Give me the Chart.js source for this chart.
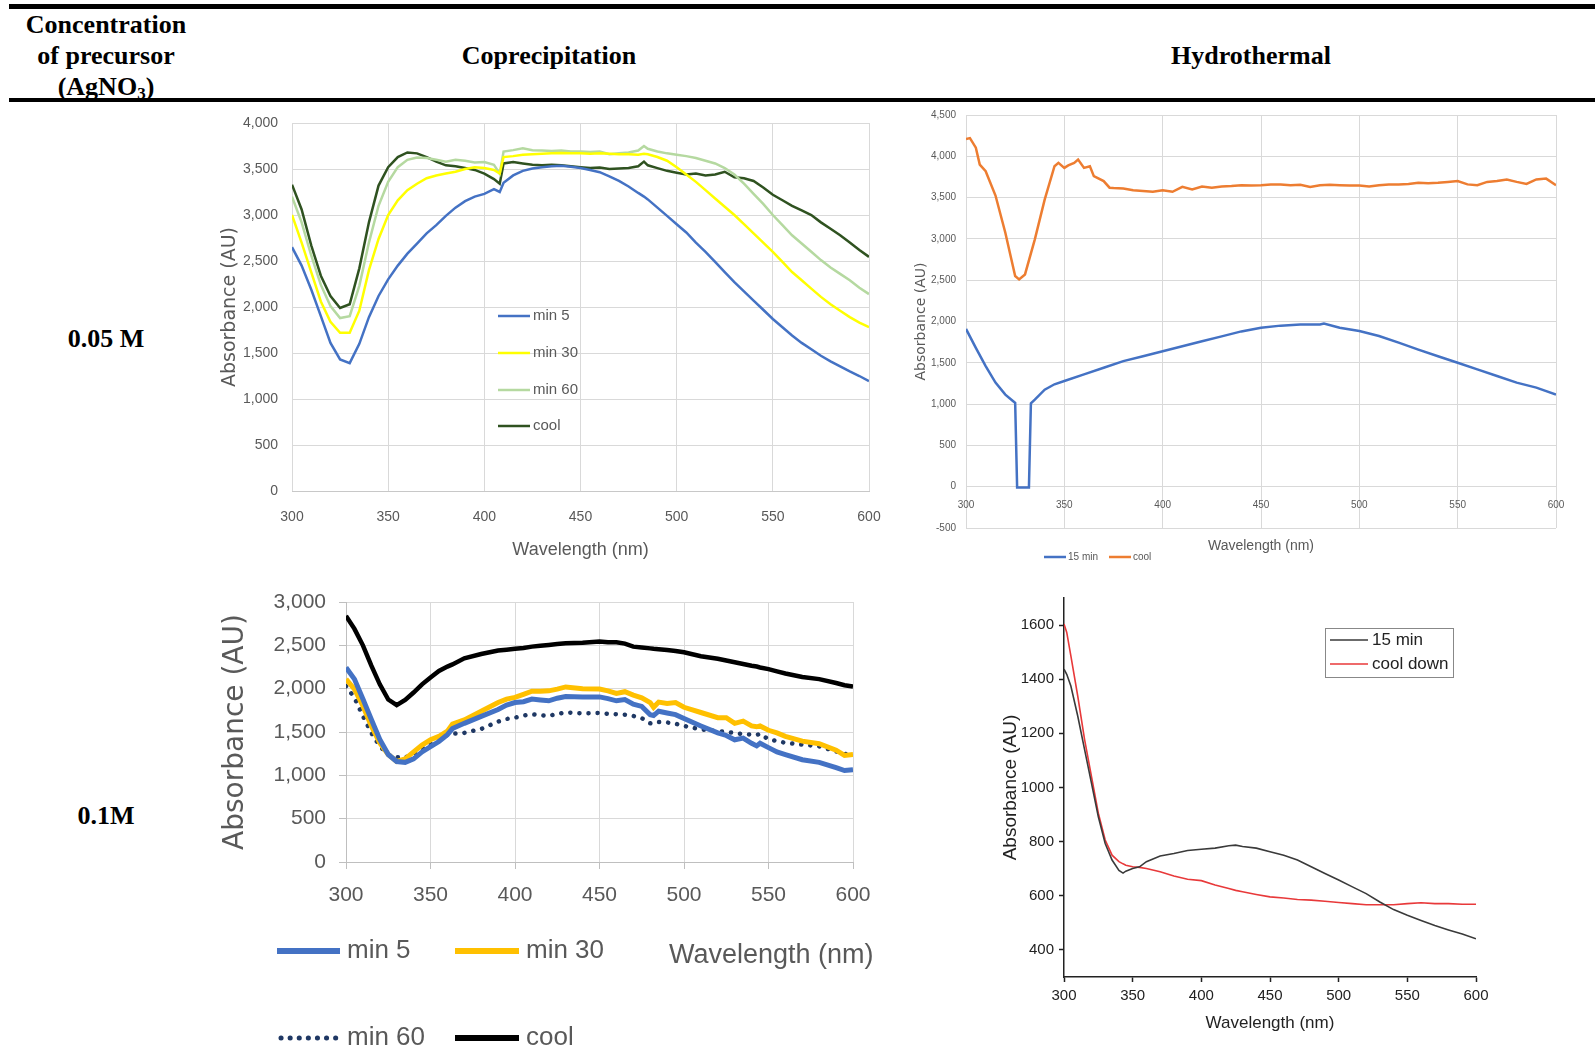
<!DOCTYPE html>
<html lang="en">
<head>
<meta charset="utf-8">
<title>Absorbance AgNO3</title>
<script src="https://cdn.jsdelivr.net/npm/chart.js@4.4.1/dist/chart.umd.min.js"></script>
<style>
  html, body { margin: 0; padding: 0; background: #fff; }
  #pagina { position: relative; width: 1595px; height: 1057px; overflow: hidden; font-family: "Liberation Serif", "Times New Roman", serif; }
  .regla { position: absolute; background: #000; }
  .celda { position: absolute; font-weight: bold; font-size: 26px; text-align: center; color: #000; }
  .grafico { position: absolute; }
</style>
</head>
<body>
<div id="pagina">
  <div class="regla" style="left:9px; top:4px; width:1586px; height:5px;"></div>
  <div class="regla" style="left:9px; top:98px; width:1586px; height:4px;"></div>

  <div class="celda" style="left:0; top:9px; width:212px; line-height:31px;">Concentration<br>of precursor<br>(AgNO<span style="font-size:17px; position:relative; top:4px;">3</span>)</div>
  <div class="celda" style="left:349px; top:40px; width:400px; line-height:32px;">Coprecipitation</div>
  <div class="celda" style="left:1051px; top:40px; width:400px; line-height:32px;">Hydrothermal</div>
  <div class="celda" style="left:0; top:323px; width:212px; line-height:32px;">0.05 M</div>
  <div class="celda" style="left:0; top:800px; width:212px; line-height:32px;">0.1M</div>

  <canvas id="graficoCopre005" class="grafico" style="left:200px; top:110px;" width="690" height="455"></canvas>
  <canvas id="graficoHidro005" class="grafico" style="left:895px; top:105px;" width="695" height="465"></canvas>
  <canvas id="graficoCopre01" class="grafico" style="left:205px; top:585px;" width="690" height="472"></canvas>
  <canvas id="graficoHidro01" class="grafico" style="left:985px; top:585px;" width="600" height="470"></canvas>
</div>

<script>
// ---- Coprecipitacion 0.05 M ----
const longitudOnda1 = [300,305,310,315,320,325,330,335,340,345,350,355,360,365,370,375,380,385,390,395,400,405,408,
  410,415,420,425,430,435,440,445,450,455,460,465,470,475,480,483,
  485,490,495,500,505,510,515,520,525,530,535,540,545,550,555,560,565,570,575,580,585,590,595,600];
const copre005Min5 = [2650,2450,2190,1900,1610,1430,1390,1600,1890,2120,2300,2450,2580,2690,2800,2890,2990,3080,3150,3200,3230,3280,3250,
  3350,3430,3480,3505,3520,3530,3535,3525,3510,3490,3465,3420,3370,3310,3240,3200,
  3170,3080,2990,2900,2810,2700,2600,2490,2380,2270,2170,2070,1970,1870,1780,1690,1610,1540,1470,1410,1355,1300,1250,1195];
const copre005Min30 = [3000,2700,2380,2060,1840,1720,1720,1960,2400,2740,3000,3160,3270,3340,3400,3430,3450,3470,3500,3520,3510,3490,3450,
  3630,3640,3655,3660,3665,3670,3675,3670,3670,3665,3670,3665,3660,3660,3655,3665,
  3660,3630,3590,3520,3440,3360,3270,3180,3090,3000,2900,2800,2700,2600,2490,2380,2290,2200,2110,2030,1960,1890,1830,1780];
const copre005Min60 = [3200,2920,2560,2240,2010,1880,1900,2230,2700,3100,3360,3520,3600,3625,3620,3600,3580,3600,3590,3570,3575,3545,3450,
  3690,3705,3725,3705,3700,3695,3700,3690,3690,3685,3690,3660,3670,3680,3700,3750,
  3720,3690,3670,3655,3640,3620,3590,3560,3510,3440,3340,3230,3120,3000,2890,2780,2690,2600,2510,2430,2360,2290,2210,2140];
const copre005Cool = [3330,3060,2670,2340,2120,1990,2030,2420,2920,3320,3520,3630,3680,3670,3630,3580,3540,3530,3510,3490,3450,3390,3340,
  3560,3575,3560,3545,3540,3545,3540,3530,3520,3510,3515,3500,3505,3510,3530,3580,
  3540,3510,3480,3460,3440,3450,3430,3440,3470,3410,3400,3370,3300,3220,3160,3100,3050,3000,2920,2850,2780,2700,2620,2545];

// ---- Hidrotermal 0.05 M ----
const longitudOnda15min = [300,305,310,315,320,324,325,326,332,333,335,340,345,350,360,370,380,390,400,410,
  420,430,440,450,460,470,480,482,490,500,510,520,530,540,550,560,570,580,590,600];
const hidro005Min15 = [1910,1680,1460,1260,1115,1035,1015,-10,-10,1010,1055,1175,1240,1280,1360,1440,1520,1580,1640,1700,
  1760,1820,1880,1925,1950,1965,1965,1975,1925,1885,1825,1745,1660,1580,1500,1420,1340,1260,1200,1115];
const longitudOndaCool = [300,302,305,307,310,315,320,323,325,327,330,335,340,345,347,350,352,355,357,360,363,365,370,373,375,
  380,385,390,395,400,405,410,415,420,425,430,435,440,445,450,455,460,465,470,475,480,485,490,495,500,
  505,510,515,520,525,530,535,540,545,550,555,560,565,570,575,580,585,590,595,600];
const hidro005Cool = [4210,4220,4105,3900,3820,3525,3075,2760,2550,2510,2570,2995,3475,3880,3920,3860,3890,3920,3960,3860,3880,3760,3700,3620,3615,
  3610,3590,3580,3570,3590,3570,3630,3600,3635,3620,3635,3640,3650,3645,3650,3660,3660,3650,3655,3630,3650,3655,3650,3645,3645,
  3635,3650,3660,3660,3665,3680,3675,3680,3690,3700,3660,3650,3690,3700,3720,3690,3665,3720,3730,3650];

// ---- Coprecipitacion 0.1 M ----
const longitudOnda3 = [300,305,310,315,320,325,330,335,340,345,350,355,360,363,370,380,390,395,400,405,410,415,420,425,430,
  440,450,455,460,465,470,475,480,482,485,490,495,500,510,520,525,530,535,540,543,545,550,555,560,570,580,590,595,600];
const copre01Min5 = [2245,2110,1880,1645,1415,1240,1160,1150,1190,1270,1330,1390,1470,1540,1600,1680,1760,1810,1840,1850,1880,1870,1860,1890,1910,
  1905,1905,1885,1860,1875,1820,1795,1700,1690,1740,1720,1700,1655,1570,1490,1460,1410,1430,1370,1340,1370,1320,1270,1240,1180,1150,1090,1055,1065];
const copre01Min30 = [2110,1995,1800,1570,1375,1240,1160,1190,1270,1350,1410,1450,1510,1590,1640,1740,1840,1880,1900,1935,1970,1970,1975,1995,2020,
  2000,1995,1975,1945,1965,1925,1895,1840,1785,1845,1830,1840,1785,1725,1665,1665,1600,1625,1570,1560,1570,1520,1490,1450,1395,1365,1290,1230,1240];
const copre01Min60 = [2030,1895,1685,1490,1335,1240,1210,1205,1250,1310,1355,1395,1470,1480,1490,1535,1620,1650,1665,1690,1705,1695,1685,1710,1725,
  1715,1720,1710,1705,1700,1685,1660,1600,1595,1615,1610,1595,1570,1530,1510,1500,1490,1475,1470,1465,1480,1415,1395,1375,1355,1335,1275,1250,1225];
const copre01Cool = [2840,2690,2500,2265,2050,1875,1810,1870,1955,2050,2130,2205,2255,2280,2350,2400,2440,2450,2460,2470,2485,2495,2505,2515,2525,
  2530,2545,2535,2535,2520,2485,2475,2465,2460,2455,2445,2435,2420,2375,2345,2325,2305,2285,2265,2255,2245,2225,2200,2175,2135,2110,2065,2040,2025];

// ---- Hidrotermal 0.1 M ----
const longitudOnda4 = [300,302,305,310,315,320,325,330,335,340,343,345,350,355,360,370,380,390,400,410,
  420,425,430,440,450,460,470,480,490,500,510,520,530,540,550,560,570,580,590,600];
const hidro01Min15 = [1437,1418,1375,1264,1140,1016,892,793,732,694,684,691,701,707,726,747,756,767,772,776,
  785,787,782,776,763,750,732,707,682,658,633,608,577,549,528,509,490,474,459,441];
const hidro01CoolDown = [1604,1573,1486,1338,1177,1041,905,806,750,726,718,713,707,705,701,689,673,661,656,640,
  627,620,615,605,596,592,586,584,580,575,571,567,567,567,571,574,571,571,569,569];
const ticksHidro01Y = [400,600,800,1000,1200,1400,1600];

const GRIS = '#595959';
const SANS = '"Liberation Sans", Arial, sans-serif';
const ANCHA = '"DejaVu Sans", Verdana, sans-serif';

Chart.defaults.animation = false;
Chart.defaults.events = [];
Chart.defaults.font.family = SANS;

// Convierte dos arreglos en puntos {x, y}
function puntos(xs, ys) {
    return xs.map((x, i) => ({ x: x, y: ys[i] }));
}

function serie(etiqueta, xs, ys, color, grosor, extra) {
    return Object.assign({
        label: etiqueta,
        data: puntos(xs, ys),
        borderColor: color,
        backgroundColor: color,
        borderWidth: grosor,
        pointRadius: 0,
        tension: 0,
        fill: false
    }, extra || {});
}

const miles = v => v.toLocaleString('en-US');

// Ancho/alto fijo del eje, sin el relleno extra que Chart.js reserva para las etiquetas
function anchoFijo(w) {
    return s => { s.width = w; s.paddingTop = 0; s.paddingBottom = 0; };
}
function altoFijo(h) {
    return s => { s.height = h; s.paddingLeft = 0; s.paddingRight = 0; };
}

// Leyenda dibujada a mano en la posicion del original
const leyendaFija = {
    id: 'leyendaFija',
    afterDraw(chart) {
        const opts = (chart.config.options.plugins || {}).leyendaFija;
        if (!opts) return;
        const ctx = chart.ctx;
        ctx.save();
        if (opts.caja) {
            ctx.strokeStyle = opts.caja.color;
            ctx.lineWidth = 1;
            ctx.strokeRect(opts.caja.x + 0.5, opts.caja.y + 0.5, opts.caja.w, opts.caja.h);
        }
        (opts.items || []).forEach(item => {
            const ds = chart.data.datasets[item.dataset];
            ctx.beginPath();
            ctx.strokeStyle = ds.borderColor;
            ctx.lineWidth = item.grosor || ds.borderWidth;
            ctx.lineCap = ds.borderCapStyle || 'butt';
            ctx.setLineDash(ds.borderDash || []);
            ctx.moveTo(item.x, item.y);
            ctx.lineTo(item.x + item.largo, item.y);
            ctx.stroke();
            ctx.setLineDash([]);
            ctx.font = opts.fuente;
            ctx.fillStyle = opts.color;
            ctx.textAlign = 'left';
            ctx.textBaseline = 'middle';
            ctx.fillText(ds.label, item.x + item.largo + (item.hueco || 4), item.y);
        });
        (opts.textos || []).forEach(t => {
            ctx.font = t.fuente;
            ctx.fillStyle = t.color;
            ctx.textAlign = t.align || 'left';
            ctx.textBaseline = 'middle';
            ctx.fillText(t.texto, t.x, t.y);
        });
        ctx.restore();
    }
};
Chart.register(leyendaFija);

// ---- Grafico 1: coprecipitacion 0.05 M ----
new Chart(document.getElementById('graficoCopre005'), {
    type: 'line',
    data: {
        datasets: [
            serie('min 5', longitudOnda1, copre005Min5, '#4472C4', 2.5),
            serie('min 30', longitudOnda1, copre005Min30, '#FFFF00', 2.5),
            serie('min 60', longitudOnda1, copre005Min60, '#B5D9A0', 2.5),
            serie('cool', longitudOnda1, copre005Cool, '#2F5220', 2.5)
        ]
    },
    options: {
        responsive: false,
        layout: { padding: { left: 15, right: 21, top: 13, bottom: 0 } },
        scales: {
            x: {
                type: 'linear', min: 300, max: 600,
                ticks: { stepSize: 50, padding: 18, color: GRIS, font: { size: 14 }, maxRotation: 0 },
                grid: { color: '#d9d9d9', drawTicks: false },
                border: { color: '#c8c8c8' },
                title: { display: true, text: 'Wavelength (nm)', color: GRIS, font: { size: 18 }, padding: { top: 4, bottom: 4 } },
                afterFit: altoFijo(74)
            },
            y: {
                min: 0, max: 4000,
                ticks: { stepSize: 500, padding: 14, color: GRIS, font: { size: 14 }, callback: miles },
                grid: { color: '#d9d9d9', drawTicks: false },
                border: { display: false },
                title: { display: true, text: 'Absorbance (AU)', color: GRIS, font: { size: 19, family: ANCHA }, padding: { top: 4, bottom: 4 } },
                afterFit: anchoFijo(77)
            }
        },
        plugins: {
            legend: { display: false },
            tooltip: { enabled: false },
            leyendaFija: {
                fuente: '15px ' + SANS, color: GRIS,
                items: [
                    { dataset: 0, x: 298, y: 206, largo: 32, hueco: 3 },
                    { dataset: 1, x: 298, y: 243, largo: 32, hueco: 3 },
                    { dataset: 2, x: 298, y: 280, largo: 32, hueco: 3 },
                    { dataset: 3, x: 298, y: 316, largo: 32, hueco: 3 }
                ]
            }
        }
    }
});

// ---- Grafico 2: hidrotermal 0.05 M ----
new Chart(document.getElementById('graficoHidro005'), {
    type: 'line',
    data: {
        datasets: [
            serie('15 min', longitudOnda15min, hidro005Min15, '#4472C4', 2.5),
            serie('cool', longitudOndaCool, hidro005Cool, '#ED7D31', 2.5)
        ]
    },
    options: {
        responsive: false,
        layout: { padding: { left: 14, right: 34, top: 10, bottom: 42 } },
        scales: {
            x: {
                type: 'linear', min: 300, max: 600, position: { y: 0 },
                ticks: { stepSize: 50, padding: 13, color: GRIS, font: { size: 10 }, maxRotation: 0 },
                grid: { color: '#d9d9d9', drawTicks: false },
                border: { color: '#d9d9d9' },
                title: { display: true, text: 'Wavelength (nm)', color: GRIS, font: { size: 14 }, padding: { top: 4, bottom: 4 } },
                afterFit: altoFijo(72)
            },
            y: {
                min: -500, max: 4500,
                ticks: { stepSize: 500, padding: 10, color: GRIS, font: { size: 10 }, callback: miles },
                grid: { color: '#d9d9d9', drawTicks: false },
                border: { display: false },
                title: { display: true, text: 'Absorbance (AU)', color: GRIS, font: { size: 14, family: ANCHA }, padding: { top: 4, bottom: 4 } },
                afterFit: anchoFijo(57)
            }
        },
        plugins: {
            legend: { display: false },
            tooltip: { enabled: false },
            leyendaFija: {
                fuente: '10px ' + SANS, color: GRIS,
                items: [
                    { dataset: 0, x: 149, y: 452, largo: 22, hueco: 2 },
                    { dataset: 1, x: 214, y: 452, largo: 22, hueco: 2 }
                ]
            }
        }
    }
});

// ---- Grafico 3: coprecipitacion 0.1 M ----
new Chart(document.getElementById('graficoCopre01'), {
    type: 'line',
    data: {
        datasets: [
            serie('min 5', longitudOnda3, copre01Min5, '#4472C4', 5),
            serie('min 30', longitudOnda3, copre01Min30, '#FFC000', 5),
            serie('min 60', longitudOnda3, copre01Min60, '#1F3864', 4.5, { borderDash: [0.1, 9], borderCapStyle: 'round' }),
            serie('cool', longitudOnda3, copre01Cool, '#000000', 4.5)
        ]
    },
    options: {
        responsive: false,
        layout: { padding: { left: 10, right: 42, top: 17, bottom: 0 } },
        scales: {
            x: {
                type: 'linear', min: 300, max: 600,
                ticks: { stepSize: 50, padding: 14, color: GRIS, font: { size: 21 }, maxRotation: 0 },
                grid: { color: '#d9d9d9', tickColor: '#bfbfbf', tickLength: 7 },
                border: { color: '#bfbfbf' },
                afterFit: altoFijo(195)
            },
            y: {
                min: 0, max: 3000,
                ticks: { stepSize: 500, padding: 13, color: GRIS, font: { size: 21 }, callback: miles },
                grid: { color: '#d9d9d9', tickColor: '#bfbfbf', tickLength: 7 },
                border: { color: '#bfbfbf' },
                title: { display: true, text: 'Absorbance (AU)', color: GRIS, font: { size: 28, family: ANCHA }, padding: { top: 4, bottom: 4 } },
                afterFit: anchoFijo(131)
            }
        },
        plugins: {
            legend: { display: false },
            tooltip: { enabled: false },
            leyendaFija: {
                fuente: '26px ' + SANS, color: GRIS,
                items: [
                    { dataset: 0, x: 72, y: 366, largo: 63, hueco: 7, grosor: 6 },
                    { dataset: 1, x: 250, y: 366, largo: 64, hueco: 7, grosor: 6 },
                    { dataset: 2, x: 76, y: 453, largo: 55, hueco: 11, grosor: 5 },
                    { dataset: 3, x: 250, y: 453, largo: 64, hueco: 7, grosor: 6 }
                ],
                textos: [
                    { texto: 'Wavelength (nm)', x: 464, y: 371, fuente: '27px ' + SANS, color: GRIS }
                ]
            }
        }
    }
});

// ---- Grafico 4: hidrotermal 0.1 M ----
new Chart(document.getElementById('graficoHidro01'), {
    type: 'line',
    data: {
        datasets: [
            serie('15 min', longitudOnda4, hidro01Min15, '#3a3a3a', 1.6),
            serie('cool down', longitudOnda4, hidro01CoolDown, '#E8393A', 1.6)
        ]
    },
    options: {
        responsive: false,
        layout: { padding: { left: 10, right: 109, top: 13, bottom: 17 } },
        scales: {
            x: {
                type: 'linear', min: 300, max: 600,
                ticks: { stepSize: 50, padding: 5, color: '#222', font: { size: 15 }, maxRotation: 0 },
                grid: { drawOnChartArea: false, tickColor: '#222', tickLength: 5, tickWidth: 1.5 },
                border: { color: '#222', width: 1.5 },
                title: { display: true, text: 'Wavelength (nm)', color: '#222', font: { size: 17 }, padding: { top: 4, bottom: 4 } },
                afterFit: altoFijo(61)
            },
            y: {
                min: 300, max: 1700,
                afterBuildTicks: s => { s.ticks = ticksHidro01Y.map(v => ({ value: v })); },
                ticks: { padding: 5, color: '#222', font: { size: 15 }, callback: v => String(v) },
                grid: { drawOnChartArea: false, tickColor: '#222', tickLength: 5, tickWidth: 1.5 },
                border: { color: '#222', width: 1.5 },
                title: { display: true, text: 'Absorbance (AU)', color: '#222', font: { size: 19 }, padding: { top: 4, bottom: 4 } },
                afterFit: anchoFijo(69)
            }
        },
        plugins: {
            legend: { display: false },
            tooltip: { enabled: false },
            leyendaFija: {
                fuente: '17px ' + SANS, color: '#222',
                caja: { x: 340, y: 43, w: 128, h: 49, color: '#888' },
                items: [
                    { dataset: 0, x: 345, y: 55, largo: 38, hueco: 4 },
                    { dataset: 1, x: 345, y: 79, largo: 38, hueco: 4 }
                ]
            }
        }
    }
});
</script>
</body>
</html>
